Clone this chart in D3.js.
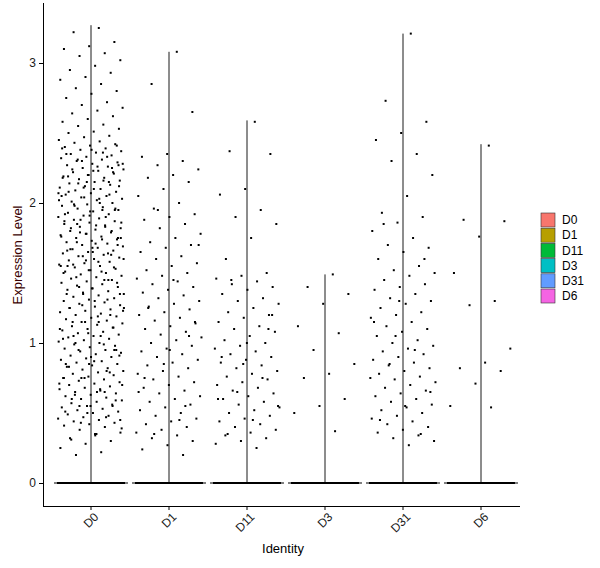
<!DOCTYPE html>
<html><head><meta charset="utf-8">
<script src="https://cdn.jsdelivr.net/npm/d3@7"></script>
<style>body{margin:0;background:#fff}</style>
</head><body><div id="chart"></div>
<script>
const groups = ["D0", "D1", "D11", "D3", "D31", "D6"];
const colors = ["#F8766D", "#B79F00", "#00BA38", "#00BFC4", "#619CFF", "#F564E3"];
const maxVals = [3.27, 3.08, 2.59, 1.49, 3.21, 2.42];
const zeroCounts = [400, 300, 300, 300, 300, 300];
const yTicks = [0, 1, 2, 3];

const d0 = [3.25,3.22,3.15,3.12,3.1,3.07,3.05,3.02,2.98,2.95,2.93,2.9,2.88,2.85,2.82,2.8,2.78,2.75,2.72,2.7,2.68,2.66,2.64,2.62,2.6,2.58,2.56,2.55,2.53,2.51,2.5,2.48,2.47,2.45,2.44,2.43,2.42,2.41,2.4,2.39,2.38,2.37,2.36,2.35,2.34,2.33,2.32,2.31,2.3,2.29,2.28,2.27,2.26,2.25,2.24,2.23,2.22,2.21,2.2,2.19,2.18,2.17,2.16,2.15,2.14,2.13,2.12,2.11,2.1,2.09,2.08,2.07,2.06,2.05,2.04,2.03,2.02,2.01,2.0,1.99,1.98,1.97,1.96,1.95,1.94,1.93,1.92,1.91,1.9,1.89,1.88,1.87,1.86,1.85,1.84,1.83,1.82,1.81,1.8,1.79,1.78,1.77,1.76,1.75,1.74,1.73,1.72,1.71,1.7,1.69,1.68,1.67,1.66,1.65,1.64,1.63,1.62,1.61,1.6,1.59,1.58,1.57,1.56,1.55,1.54,1.53,1.52,1.51,1.5,1.49,1.48,1.47,1.46,1.45,1.44,1.43,1.42,1.41,1.4,1.39,1.38,1.37,1.36,1.35,1.34,1.33,1.32,1.31,1.3,1.29,1.28,1.27,1.26,1.25,1.24,1.23,1.22,1.21,1.2,1.19,1.18,1.17,1.16,1.15,1.14,1.13,1.12,1.11,1.1,1.09,1.08,1.07,1.06,1.05,1.04,1.03,1.02,1.01,1.0,0.99,0.98,0.97,0.96,0.95,0.94,0.93,0.92,0.91,0.9,0.89,0.88,0.87,0.86,0.85,0.84,0.83,0.82,0.81,0.8,0.79,0.78,0.77,0.76,0.75,0.74,0.73,0.72,0.71,0.7,0.69,0.68,0.67,0.66,0.65,0.64,0.63,0.62,0.61,0.6,0.59,0.58,0.57,0.56,0.55,0.54,0.53,0.52,0.51,0.5,0.49,0.48,0.47,0.46,0.45,0.44,0.43,0.42,0.41,0.4,0.38,0.36,0.34,0.32,0.3,0.28,0.25,0.22,0.2,
  2.41,2.38,2.35,2.33,2.3,2.28,2.26,2.24,2.22,2.2,2.18,2.16,2.14,2.12,2.1,2.08,2.06,2.04,2.02,2.0,1.98,1.96,1.94,1.92,1.9,1.88,1.86,1.84,1.82,1.8,1.78,1.76,1.74,1.72,1.7,1.68,1.66,1.64,1.62,1.6,1.58,1.56,1.54,1.52,1.5,1.45,1.4,1.35,1.3,1.25,1.2,1.15,1.1,1.05,1.0,0.95,0.9,0.85,0.8,0.75,0.7,0.65,0.6,0.55,0.5,
  2.39,2.36,2.31,2.27,2.23,2.19,2.15,2.11,2.07,2.03,1.99,1.95,1.91,1.87,1.83,1.79,1.75,1.71,1.67,1.63,1.59,1.55,1.51,1.47,1.43,1.39,1.35,1.31,1.27,1.23,1.19,1.15,1.11,1.07,1.03,0.99,0.95,0.91,0.87,0.83,0.79,0.75,0.71,0.67,0.63,0.59,0.55,0.51,0.47,0.43,0.39,0.35,0.31,
  2.25,2.15,2.05,1.95,1.85,1.75,1.65,1.55,1.45,1.35,1.25,1.15,1.05,0.95,0.85,0.75,0.65,0.55,0.45,0.35];
const d1 = [3.08,2.85,2.65,2.35,2.33,2.3,2.27,2.24,2.2,2.18,2.15,2.1,2.05,2.0,1.96,1.92,1.9,1.88,1.85,1.82,1.78,1.75,1.72,1.7,1.68,1.65,1.62,1.6,1.57,1.55,1.52,1.5,1.48,1.46,1.44,1.42,1.4,1.38,1.36,1.34,1.32,1.3,1.28,1.26,1.24,1.22,1.2,1.18,1.16,1.14,1.12,1.1,1.08,1.06,1.04,1.02,1.0,0.98,0.96,0.94,0.92,0.9,0.88,0.86,0.84,0.82,0.8,0.78,0.76,0.74,0.72,0.7,0.68,0.66,0.64,0.62,0.6,0.58,0.56,0.54,0.52,0.5,0.48,0.46,0.44,0.42,0.4,0.38,0.36,0.34,0.32,0.3,0.27,0.24,0.2,
  1.95,1.7,1.45,1.25,1.05,0.85,0.65,0.45,0.35,1.15,0.95,0.75,0.55];
const d11 = [2.58,2.37,2.35,2.1,2.06,1.95,1.9,1.85,1.75,1.6,1.5,1.48,1.46,1.44,1.42,1.4,1.38,1.35,1.32,1.3,1.28,1.25,1.22,1.2,1.18,1.15,1.12,1.1,1.08,1.05,1.02,1.0,0.98,0.96,0.94,0.92,0.9,0.88,0.86,0.84,0.82,0.8,0.78,0.76,0.74,0.72,0.7,0.68,0.66,0.64,0.62,0.6,0.58,0.56,0.54,0.52,0.5,0.48,0.46,0.44,0.42,0.4,0.38,0.36,0.34,0.32,0.3,0.28,0.25,
  1.45,1.2,1.0,0.9,0.75,0.65,0.55,0.45,0.35,1.1,0.85,0.6];
const d3v = [1.49,1.4,1.35,1.28,1.12,1.07,0.95,0.85,0.78,0.75,0.6,0.55,0.5,0.37];
const d31 = [3.21,2.73,2.58,2.5,2.45,2.35,2.3,2.2,2.05,1.93,1.9,1.86,1.8,1.75,1.7,1.68,1.65,1.6,1.55,1.52,1.5,1.48,1.45,1.42,1.4,1.38,1.35,1.32,1.3,1.28,1.25,1.22,1.2,1.18,1.15,1.12,1.1,1.08,1.05,1.02,1.0,0.98,0.96,0.94,0.92,0.9,0.88,0.86,0.84,0.82,0.8,0.78,0.76,0.74,0.72,0.7,0.68,0.66,0.64,0.62,0.6,0.58,0.56,0.54,0.52,0.5,0.48,0.46,0.44,0.42,0.4,0.38,0.36,0.34,0.32,0.3,0.27,
  1.85,1.6,1.3,1.15,0.95,0.85,0.65,0.55,0.45,0.35,1.05,0.75];
const d6 = [2.41,1.88,1.87,1.76,1.5,1.3,1.27,0.96,0.86,0.82,0.8,0.71,0.55,0.54];
const values = [d0, d1, d11, d3v, d31, d6];

const width = 600, height = 568;
const margin = {left: 43};
const svg = d3.select("#chart").append("svg").attr("width", width).attr("height", height)
  .style("font-family", "Arial, 'Liberation Sans', sans-serif");

const x = d3.scaleBand().domain(groups).range([52, 520]).padding(0);
const y = d3.scaleLinear().domain([0, 3]).range([483, 63]);
const y0 = y(0);

// violins: outline only (almost all mass at zero)
groups.forEach((gName, i) => {
  const cx = x(gName) + x.bandwidth() / 2;
  svg.append("line").attr("x1", cx).attr("x2", cx).attr("y1", y0).attr("y2", y(maxVals[i]))
    .attr("stroke", "#000").attr("stroke-width", 0.9);
  svg.append("line").attr("x1", cx - 37).attr("x2", cx + 37).attr("y1", y0).attr("y2", y0)
    .attr("stroke", "#000").attr("stroke-width", 1);
});

// jittered points (deterministic offsets)
const jit = k => ((k * 0.6180339887) % 1) * 2 - 1;
groups.forEach((gName, i) => {
  const cx = x(gName) + x.bandwidth() / 2;
  const pts = values[i].map((v, k) => ({v, k}));
  for (let k = 0; k < zeroCounts[i]; k++) pts.push({v: 0, k: k + 1000});
  svg.append("g").selectAll("rect").data(pts).join("rect")
    .attr("x", d => cx + jit(d.k + 1) * 33 - 1)
    .attr("y", d => y(d.v) - 1)
    .attr("width", 2).attr("height", 2).attr("fill", "#000");
});

// axes
const xAxis = svg.append("g").attr("transform", `translate(0,506)`)
  .call(d3.axisBottom(x).tickSize(4));
xAxis.select(".domain").attr("d", `M${margin.left},0.5H520`);
xAxis.selectAll("text").attr("font-size", 12).attr("fill", "#1a1a1a")
  .attr("transform", "rotate(-45)").attr("text-anchor", "end").attr("dx", "-0.2em").attr("dy", "0.6em");
const yAxis = svg.append("g").attr("transform", `translate(${margin.left},0)`)
  .call(d3.axisLeft(y).tickValues(yTicks).tickFormat(d3.format("d")).tickSize(4));
yAxis.select(".domain").attr("d", `M0.5,3V506`);
yAxis.selectAll("text").attr("font-size", 12).attr("fill", "#1a1a1a");
svg.selectAll(".domain, .tick line").attr("stroke", "#000");

svg.append("text").attr("x", 283).attr("y", 553).attr("text-anchor", "middle")
  .attr("font-size", 13).text("Identity");
svg.append("text").attr("transform", "translate(22,255) rotate(-90)").attr("text-anchor", "middle")
  .attr("font-size", 13).attr("fill", "#3a0000").text("Expression Level");

// legend
const lg = svg.append("g").attr("transform", "translate(541,213)");
groups.forEach((gName, i) => {
  lg.append("rect").attr("x", 0).attr("y", i * 15.2).attr("width", 14).attr("height", 14)
    .attr("fill", colors[i]).attr("stroke", "#333").attr("stroke-width", 0.6);
  lg.append("text").attr("x", 21).attr("y", i * 15.2 + 7).attr("dy", "0.35em")
    .attr("font-size", 12).text(gName);
});
</script></body></html>
